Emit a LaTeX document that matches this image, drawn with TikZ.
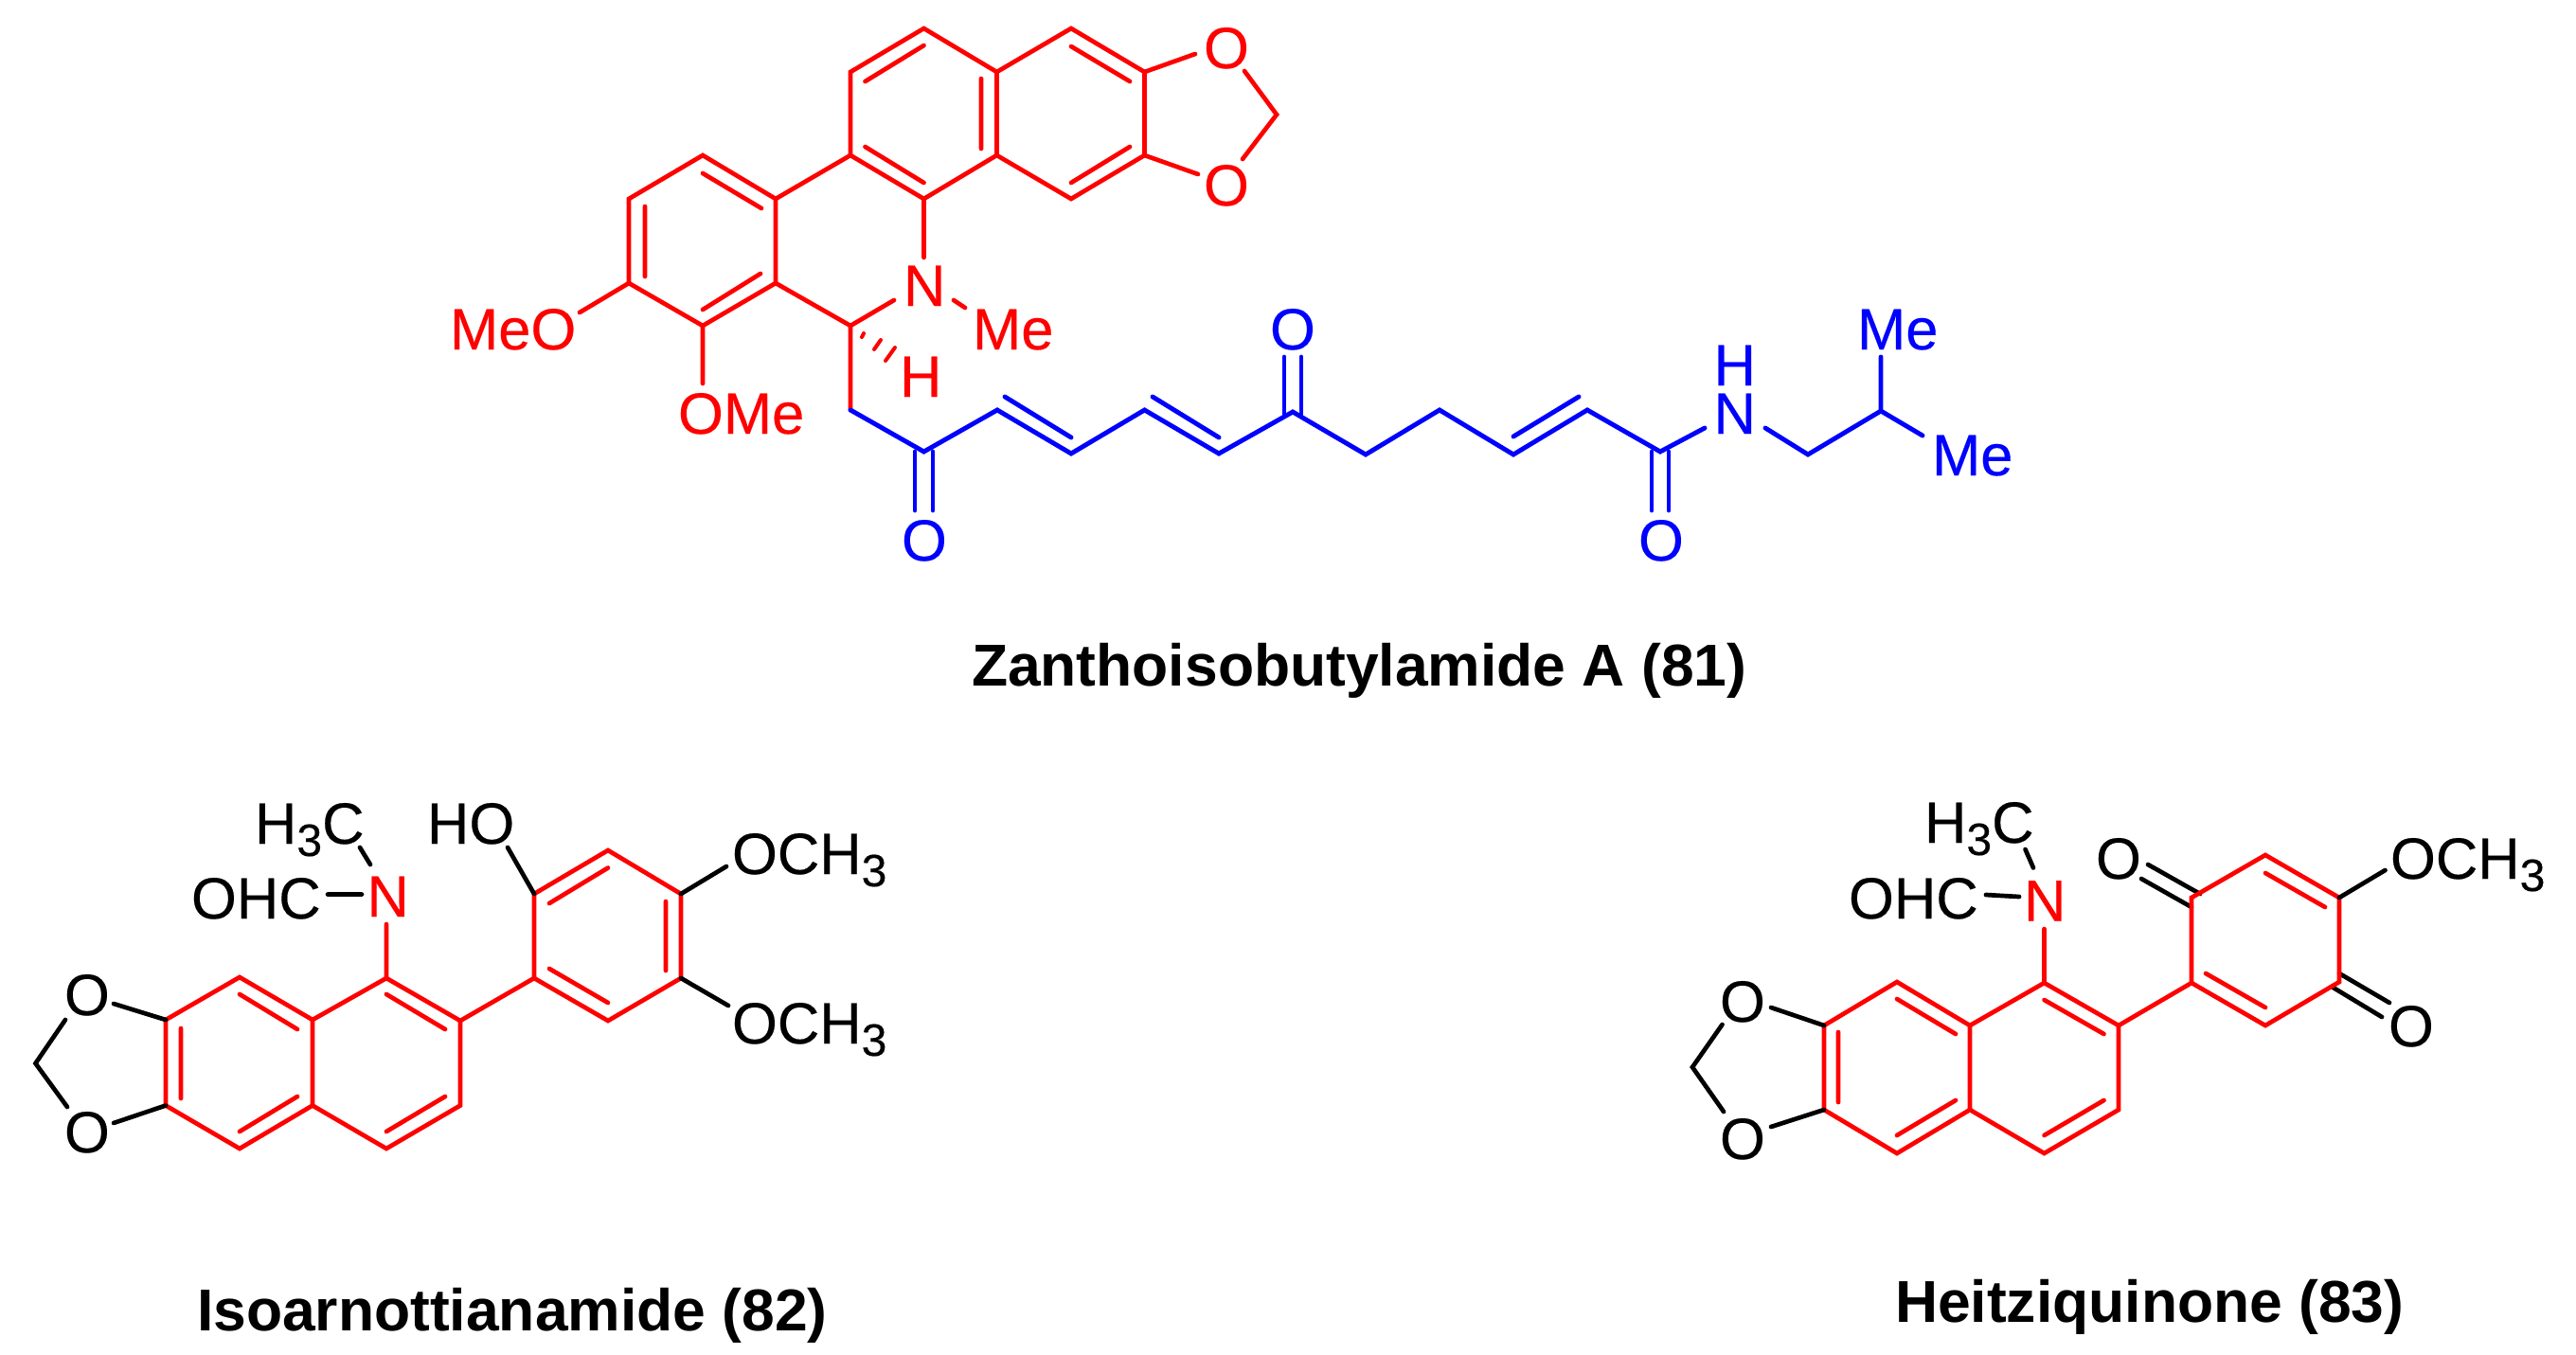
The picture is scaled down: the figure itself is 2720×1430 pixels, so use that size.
\documentclass[tikz,border=0pt]{standalone}
\usepackage{fontspec}
\setmainfont{Liberation Sans}
\newfontfamily\chemfont[FakeBold=0.3]{Liberation Sans}
\newcommand{\subthree}{\raisebox{-13pt}{\fontsize{48}{48}\selectfont 3}}
\begin{document}
\begin{tikzpicture}[x=1pt,y=-1pt,
  rb/.style={draw=red,line width=4.7pt,line cap=round,line join=miter},
  bb/.style={draw=blue,line width=4.9pt,line cap=round,line join=miter},
  kb/.style={draw=black,line width=4.7pt,line cap=round,line join=miter},
  lab/.style={inner sep=0pt,outer sep=0pt,anchor=base west,font=\fontsize{61.5}{61.5}\selectfont\chemfont},
  rl/.style={lab,text=red},
  bl/.style={lab,text=blue},
  kl/.style={lab,text=black},
  captxt/.style={inner sep=0pt,outer sep=0pt,anchor=base west,font=\fontsize{62.4}{62.4}\selectfont\bfseries,text=black}]
\fill[white] (0,0) rectangle (2720,1430);
\useasboundingbox (0,0) rectangle (2720,1430);
% ---------- 81 atoms
\foreach \n/\x/\y in {a1/975.5/30,a2/1052.5/76,a3/1052.5/164,a4/975.5/210,a5/898/164,a6/898/76,
  b1/1131/30,b2/1208.5/76,b3/1208.5/164,b4/1131/210,
  m1/1348/121,mt/1314/75,mb/1312/168,ot/1262/57,ob/1265/184,
  c1/742/164,c2/819/210,c3/819/299,c4/742/344,c5/664/299,c6/664/210,
  s1/898/344,s2/898/433,n1a/975.5/272,n1b/944/317,n1c/1007/317,n1d/1019/325,
  meo/612/330,ome/742/405,
  e1/975.5/477,e2/1053/433,e3/1131/479,e4/1208.5/433,e5/1287/479,e6/1365/435,
  e7/1442/480,e8/1520/433,e9/1598/480,e10/1676/433,e11/1753/477,
  nc/1800/452,nd/1864/452,f1/1909/480,f2/1986/434,f3/1986/377,f4/2030/460}
  {\coordinate (\n) at (\x,\y);}
% rings of 81
\draw[rb] (a5)--(a6)--(a1)--(a2)--(a3)--(a4)--cycle;
\draw[rb] (a2)--(b1)--(b2)--(b3)--(b4)--(a3);
\draw[rb] (c1)--(c2)--(c3)--(c4)--(c5)--(c6)--cycle;
\draw[rb] (c2)--(a5) (a4)--(n1a) (c3)--(s1)--(n1b) (n1c)--(n1d) (s1)--(s2);
\draw[rb] (b2)--(ot) (b3)--(ob) (mt)--(m1)--(mb);
\draw[rb] (c5)--(meo) (c4)--(ome);
% inner double lines of 81
\coordinate (i1) at (975.5,48); \coordinate (i2) at (913.5,86);
\coordinate (i3) at (1036,83); \coordinate (i4) at (1036,157);
\coordinate (i5) at (975.5,193); \coordinate (i6) at (913.5,155);
\coordinate (i7) at (1131,49); \coordinate (i8) at (1193,86);
\coordinate (i9) at (1193,155); \coordinate (i10) at (1131,193);
\coordinate (i11) at (742,183); \coordinate (i12) at (804,220);
\coordinate (i13) at (681,218); \coordinate (i14) at (681,292);
\coordinate (i15) at (803,289); \coordinate (i16) at (742,327);
\draw[rb] (i1)--(i2) (i3)--(i4) (i5)--(i6) (i7)--(i8) (i9)--(i10) (i11)--(i12) (i13)--(i14) (i15)--(i16);
% hashed bond
\coordinate (h1) at (912,352); \coordinate (h2) at (910,356);
\coordinate (h3) at (930,359); \coordinate (h4) at (923,369);
\coordinate (h5) at (945,367); \coordinate (h6) at (935,381);
\draw[rb,line width=4pt] (h1)--(h2) (h3)--(h4) (h5)--(h6);
% chain of 81
\draw[bb] (s2)--(e1)--(e2)--(e3)--(e4)--(e5)--(e6)--(e7)--(e8)--(e9)--(e10)--(e11)--(nc);
\draw[bb] (nd)--(f1)--(f2)--(f3) (f2)--(f4);
\coordinate (j1) at (1061,419); \coordinate (j2) at (1131,462);
\coordinate (j3) at (1217,419); \coordinate (j4) at (1287,462);
\coordinate (j5) at (1667,419); \coordinate (j6) at (1598,461);
\draw[bb] (j1)--(j2) (j3)--(j4) (j5)--(j6);
\coordinate (k1) at (966,477); \coordinate (k2) at (966,539);
\coordinate (k3) at (985,477); \coordinate (k4) at (985,539);
\coordinate (k5) at (1356,377); \coordinate (k6) at (1356,437);
\coordinate (k7) at (1374,377); \coordinate (k8) at (1374,437);
\coordinate (k9) at (1744,477); \coordinate (k10) at (1744,539);
\coordinate (k11) at (1762,477); \coordinate (k12) at (1762,539);
\draw[bb] (k1)--(k2) (k3)--(k4) (k5)--(k6) (k7)--(k8) (k9)--(k10) (k11)--(k12);
% labels of 81
\node[rl] (l1) at (1271,72) {O};
\node[rl] (l2) at (1271,217) {O};
\node[rl] (l3) at (954,323) {N};
\node[rl] (l4) at (1027,369) {Me};
\node[rl] (l5) at (950,419) {H};
\node[rl] (l6) at (475,369) {MeO};
\node[rl] (l7) at (716,458) {OMe};
\node[bl] (l8) at (1341,369) {O};
\node[bl] (l9) at (952,592) {O};
\node[bl] (l10) at (1730,592) {O};
\node[bl] (l11) at (1809.5,407) {H};
\node[bl] (l12) at (1809.5,458) {N};
\node[bl] (l13) at (1961,369) {Me};
\node[bl] (l14) at (2040,502) {Me};
\node[captxt] (t1) at (1026,724) {Zanthoisobutylamide A (81)};
% ---------- 82 atoms
\foreach \n/\x/\y in {p1/253/1032,p2/330/1077,p3/408/1033,p4/486/1078,p5/486/1167.5,p6/408/1213,p7/330/1167.5,p8/253/1213,p9/175/1167.5,p10/175/1077,
  q1/564/1033,q2/564/944,q3/642/898,q4/719/944,q5/719/1033,q6/642/1078,
  r1/37.5/1123,r2/69/1077,r3/71/1169,r4/120/1060,r5/120/1186,
  r6/408/976,r7/346/944.5,r8/382/944.5,r9/391/913,r10/380/895,r11/536/895,r12/767/915,r13/769/1062}
  {\coordinate (\n) at (\x,\y);}
\draw[rb] (p1)--(p2)--(p3)--(p4)--(p5)--(p6)--(p7)--(p8)--(p9)--(p10)--cycle;
\draw[rb] (p2)--(p7) (p4)--(q1)--(q2)--(q3)--(q4)--(q5)--(q6)--(q1) (p3)--(r6);
\coordinate (u1) at (253,1050); \coordinate (u2) at (314,1087);
\coordinate (u3) at (191,1086); \coordinate (u4) at (191,1160);
\coordinate (u5) at (314,1158); \coordinate (u6) at (253,1195);
\coordinate (u7) at (408,1050); \coordinate (u8) at (470,1087);
\coordinate (u9) at (470,1158); \coordinate (u10) at (408,1195);
\coordinate (u11) at (642,916.5); \coordinate (u12) at (580,954);
\coordinate (u13) at (703,952); \coordinate (u14) at (703,1025);
\coordinate (u15) at (580,1023); \coordinate (u16) at (642,1059);
\draw[rb] (u1)--(u2) (u3)--(u4) (u5)--(u6) (u7)--(u8) (u9)--(u10) (u11)--(u12) (u13)--(u14) (u15)--(u16);
\draw[kb] (r2)--(r1)--(r3) (p10)--(r4) (p9)--(r5) (r7)--(r8) (r9)--(r10) (q2)--(r11) (q4)--(r12) (q5)--(r13);
\node[kl] (n1) at (68,1072) {O};
\node[kl] (n2) at (68,1217) {O};
\node[rl] (n3) at (387.5,968) {N};
\node[kl] (n4) at (269,891) {H\subthree C};
\node[kl] (n5) at (202,970) {OHC};
\node[kl] (n6) at (451,891) {HO};
\node[kl] (n7) at (773,923) {OCH\subthree};
\node[kl] (n8) at (773,1102) {OCH\subthree};
\node[captxt] (t2) at (208,1405.5) {Isoarnottianamide (82)};
% ---------- 83 atoms
\foreach \n/\x/\y in {v1/2003/1037,v2/2080/1083,v3/2158.5/1038,v4/2237/1083,v5/2237/1172,v6/2158.5/1218,v7/2080/1172,v8/2003/1218,v9/1926/1172,v10/1926/1083,
  w1/2314/1038,w2/2314/948,w3/2392/903,w4/2470/948,w5/2470/1037,w6/2392/1083,
  x1/1787/1127,x2/1818.5/1082,x3/1820/1174,x4/1870/1064,x5/1870/1190,
  x6/2158.5/981,x7/2097/945,x8/2132/947,x9/2147/916.5,x10/2138.5/897,x11/2518.5/919,
  y1/2268/913,y2/2323/944,y3/2261/928,y4/2314/958,y5/2470/1028,y6/2523/1059,y7/2462/1042,y8/2515/1074}
  {\coordinate (\n) at (\x,\y);}
\draw[kb] (y1)--(y2) (y3)--(y4) (y5)--(y6) (y7)--(y8);
\draw[rb] (v1)--(v2)--(v3)--(v4)--(v5)--(v6)--(v7)--(v8)--(v9)--(v10)--cycle;
\draw[rb] (v2)--(v7) (v4)--(w1)--(w2)--(w3)--(w4)--(w5)--(w6)--(w1) (v3)--(x6);
\coordinate (z1) at (2003,1055); \coordinate (z2) at (2065,1092);
\coordinate (z3) at (1941,1090); \coordinate (z4) at (1941,1164);
\coordinate (z5) at (2065,1162); \coordinate (z6) at (2003,1199);
\coordinate (z7) at (2158.5,1056); \coordinate (z8) at (2221.5,1092);
\coordinate (z9) at (2221.5,1162); \coordinate (z10) at (2158.5,1199);
\coordinate (z11) at (2392,922); \coordinate (z12) at (2455,958);
\coordinate (z13) at (2329,1028); \coordinate (z14) at (2392,1064);
\draw[rb] (z1)--(z2) (z3)--(z4) (z5)--(z6) (z7)--(z8) (z9)--(z10) (z11)--(z12) (z13)--(z14);
\draw[kb] (x2)--(x1)--(x3) (v10)--(x4) (v9)--(x5) (x7)--(x8) (x9)--(x10) (w4)--(x11);
\node[kl] (o1) at (1816,1079) {O};
\node[kl] (o2) at (1816,1224) {O};
\node[rl] (o3) at (2137,972.5) {N};
\node[kl] (o4) at (2032,890) {H\subthree C};
\node[kl] (o5) at (1952,970) {OHC};
\node[kl] (o6) at (2213,928) {O};
\node[kl] (o7) at (2524,928) {OCH\subthree};
\node[kl] (o8) at (2522,1105) {O};
\node[captxt] (t3) at (2001,1396) {Heitziquinone (83)};
\end{tikzpicture}
\end{document}
